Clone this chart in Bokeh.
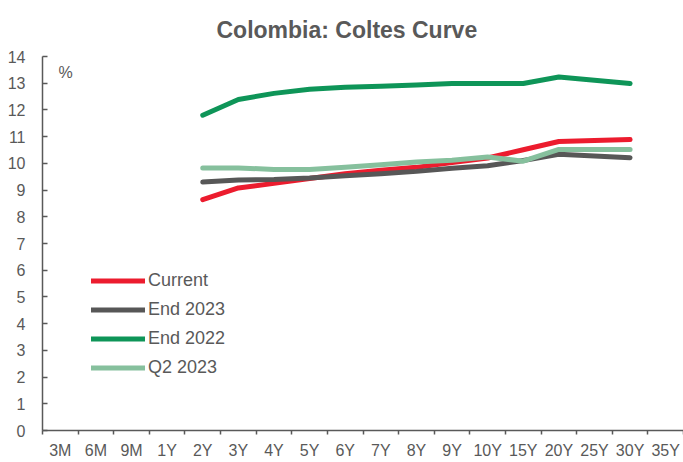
from bokeh.plotting import figure
from bokeh.models import (FactorRange, Range1d, LinearAxis, CategoricalAxis, FixedTicker,
                          Label, Legend, LegendItem)
from bokeh.embed import file_html
from bokeh.resources import INLINE

categories = ["3M", "6M", "9M", "1Y", "2Y", "3Y", "4Y", "5Y", "6Y", "7Y", "8Y", "9Y",
              "10Y", "15Y", "20Y", "25Y", "30Y", "35Y"]
tenors = ["2Y", "3Y", "4Y", "5Y", "6Y", "7Y", "8Y", "9Y", "10Y", "15Y", "20Y", "30Y"]
current = [8.64, 9.08, 9.25, 9.43, 9.61, 9.74, 9.85, 10.03, 10.20, 10.51, 10.82, 10.89]
end_2023 = [9.30, 9.38, 9.40, 9.45, 9.54, 9.61, 9.70, 9.82, 9.91, 10.11, 10.34, 10.21]
end_2022 = [11.80, 12.39, 12.62, 12.77, 12.85, 12.89, 12.93, 12.99, 12.99, 12.99, 13.23, 12.99]
q2_2023 = [9.83, 9.83, 9.77, 9.77, 9.85, 9.95, 10.05, 10.12, 10.24, 10.08, 10.52, 10.52]
series_names = ["Current", "End 2023", "End 2022", "Q2 2023"]
series_colors = ["#EC1C2E", "#575757", "#0E9558", "#86C09D"]
y_ticks = list(range(0, 15))
title_text = "Colombia: Coltes Curve"

FONT = "'Liberation Sans Narrow', 'Arial Narrow', 'Liberation Sans', Arial, sans-serif"
GRAY = "#595959"

p = figure(width=683, height=461,
           x_range=FactorRange(factors=categories, range_padding=0),
           y_range=Range1d(0, 14),
           output_backend="svg", toolbar_location=None,
           x_axis_location=None, y_axis_location=None,
           min_border_left=42, min_border_right=0, min_border_top=56, min_border_bottom=31)
p.outline_line_color = None
p.background_fill_color = "white"
p.border_fill_color = "white"
p.grid.grid_line_color = None

p.title.text = title_text
p.title.align = "left"
p.title.offset = 174
p.title.standoff = 28
p.title.text_font = FONT
p.title.text_font_size = "23px"
p.title.text_font_style = "bold"
p.title.text_color = GRAY

# y axis
yax = LinearAxis(ticker=FixedTicker(ticks=y_ticks), axis_line_color=GRAY, axis_line_width=1.5,
                 major_tick_line_color=GRAY, major_tick_line_width=1.5, major_tick_in=5, major_tick_out=0,
                 minor_tick_line_color=None, major_label_standoff=17,
                 major_label_text_font=FONT, major_label_text_font_size="16px",
                 major_label_text_color=GRAY)
p.add_layout(yax, "left")

# x axis line with tick marks at the category boundaries (synthetic coordinates 0..N)
edge_ax = LinearAxis(ticker=FixedTicker(ticks=[], minor_ticks=list(range(len(categories) + 1))),
                     axis_line_color=GRAY, axis_line_width=1.5,
                     major_tick_line_color=None, major_tick_in=0, major_tick_out=0,
                     minor_tick_line_color=GRAY, minor_tick_line_width=1.5,
                     minor_tick_in=0, minor_tick_out=4)
p.add_layout(edge_ax, "below")
cat_ax = CategoricalAxis(axis_line_color=None, major_tick_line_color=None, minor_tick_line_color=None,
                         major_tick_in=0, major_tick_out=0,
                         major_label_standoff=7, major_label_text_font=FONT,
                         major_label_text_font_size="16px", major_label_text_color=GRAY)
p.add_layout(cat_ax, "below")

renderers = []
for name, vals, col in zip(series_names, [current, end_2023, end_2022, q2_2023], series_colors):
    r = p.line(tenors, vals, line_color=col, line_width=5, line_cap="round", line_join="round")
    renderers.append(r)

legend = Legend(items=[LegendItem(label=n, renderers=[r]) for n, r in zip(series_names, renderers)],
                location=(49, 52), orientation="vertical",
                label_text_font=FONT, label_text_font_size="18px", label_text_color=GRAY,
                glyph_width=54, glyph_height=21, label_height=21, spacing=8, padding=0, margin=0,
                label_standoff=3, background_fill_alpha=0, border_line_color=None)
p.add_layout(legend, "center")

p.add_layout(Label(x=16, y=358, x_units="screen", y_units="screen", text="%",
                   text_font=FONT, text_font_size="16px", text_color=GRAY, text_baseline="middle"))

open("out.html", "w").write(file_html(p, INLINE))
